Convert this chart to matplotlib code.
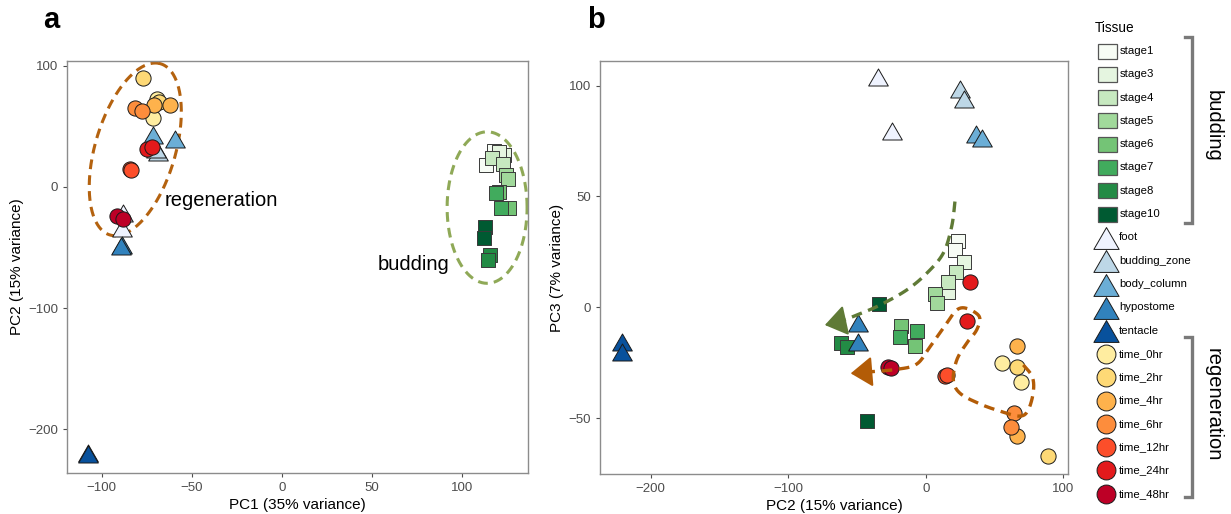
import numpy as np
import matplotlib
matplotlib.use("Agg")
import matplotlib.pyplot as plt
from matplotlib.patches import Rectangle
from matplotlib.path import Path

plt.rcParams['font.family'] = ['Liberation Sans', 'DejaVu Sans']

# ---------------- data ----------------
tissues_budding = ['stage1', 'stage3', 'stage4', 'stage5', 'stage6', 'stage7', 'stage8', 'stage10']
tissues_body = ['foot', 'budding_zone', 'body_column', 'hypostome', 'tentacle']
tissues_regen = ['time_0hr', 'time_2hr', 'time_4hr', 'time_6hr', 'time_12hr', 'time_24hr', 'time_48hr']

colors_budding = ['#f7fcf5', '#e5f5e0', '#c7e9c0', '#a1d99b', '#74c476', '#41ab5d', '#238b45', '#005a32']
colors_body = ['#eff3ff', '#bdd7e7', '#6baed6', '#3182bd', '#08519c']
colors_regen = ['#ffeda0', '#fed976', '#feb24c', '#fd8d3c', '#fc4e2a', '#e31a1c', '#bd0026']

# panel a: PC1 vs PC2
tissue_a = (['stage1'] * 2 + ['stage3'] * 2 + ['stage4'] * 2 + ['stage5'] * 2 + ['stage6'] * 2 +
            ['stage7'] * 2 + ['stage8'] * 2 + ['stage10'] * 2 +
            ['foot'] * 2 + ['budding_zone'] * 2 + ['body_column'] * 2 + ['hypostome'] * 2 + ['tentacle'] * 2 +
            ['time_0hr'] * 2 + ['time_2hr'] * 2 + ['time_4hr'] * 2 + ['time_6hr'] * 2 + ['time_12hr'] * 2 +
            ['time_24hr'] * 2 + ['time_48hr'] * 2)
pc1_a = [117.8, 113.3, 123.3, 120.5, 116.5, 122.9, 124.3, 125.7, 126.3, 120.5,
         118.9, 121.6, 115.5, 114.6, 112.8, 112.2,
         -88.0, -88.9, -68.6, -70.0, -71.5, -59.3, -88.9, -89.5, -107.4, -107.6,
         -69.5, -71.5, -77.1, -68.5, -70.8, -62.1, -81.5, -77.6, -84.3, -84.0,
         -74.7, -72.3, -91.3, -88.0]
pc2_a = [29.6, 18.1, 26.3, 28.5, 23.6, 18.6, 9.8, 6.3, -17.2, -4.5,
         -5.3, -17.7, -56.2, -60.3, -32.8, -42.4,
         -21.3, -34.2, 29.1, 31.0, 42.8, 39.3, -47.9, -48.5, -219.8, -220.3,
         72.3, 56.8, 89.9, 70.0, 67.6, 67.6, 65.1, 62.6, 14.8, 13.8,
         31.0, 33.2, -24.0, -26.8]

# panel b: PC2 vs PC3
tissue_b = (['stage1'] * 2 + ['stage3'] * 2 + ['stage4'] * 2 + ['stage5'] * 2 + ['stage6'] * 2 +
            ['stage7'] * 2 + ['stage8'] * 2 + ['stage10'] * 2 +
            ['foot'] * 2 + ['budding_zone'] * 2 + ['body_column'] * 2 + ['hypostome'] * 2 + ['tentacle'] * 2 +
            ['time_0hr'] * 2 + ['time_2hr'] * 2 + ['time_4hr'] * 2 + ['time_6hr'] * 2 + ['time_12hr'] * 2 +
            ['time_24hr'] * 2 + ['time_48hr'] * 2)
pc2_b = [23.6, 21.2, 27.8, 16.4, 22.0, 16.1, 6.7, 8.4, -18.0, -7.9,
         -18.8, -6.2, -61.9, -57.1, -34.0, -43.0,
         -35.0, -24.4, 24.9, 27.8, 36.5, 40.6, -49.1, -49.1, -221.1, -221.1,
         55.6, 69.4, 66.5, 88.6, 66.5, 66.5, 64.1, 61.7, 14.0, 15.2,
         32.1, 29.7, -27.3, -25.3]
pc3_b = [30.1, 25.9, 20.3, 7.0, 16.1, 11.6, 6.0, 2.1, -8.4, -17.5,
         -13.3, -10.6, -16.2, -18.1, 1.5, -51.2,
         104.1, 79.7, 98.4, 93.9, 78.2, 76.3, -7.2, -15.5, -15.5, -20.3,
         -25.0, -33.8, -26.8, -67.1, -17.3, -57.9, -47.8, -53.9, -30.9, -30.4,
         11.3, -6.0, -26.8, -27.5]

# annotation paths in panel b (data coords)
green_path_x = [21.2, 18.8, 12.7, 0.6, -13.9, -33.3, -50.2, -62.4]
green_path_y = [47.7, 36.4, 24.4, 15.3, 7.8, 1.0, -3.5, -6.5]
green_tip = (-73.4, -8.0)
brown_path_x = [70.9, 77.4, 78.2, 74.5, 68.5, 55.2, 39.4, 24.9, 20.0, 22.5, 29.7, 37.0, 38.9,
                29.7, 22.5, 15.2, 3.1, -6.6, -21.2, -40.6]
brown_path_y = [-26.0, -31.3, -38.1, -46.3, -49.1, -47.1, -43.6, -38.8, -32.8, -23.8, -16.2, -10.2, -4.2,
                -0.5, -1.2, -7.2, -17.8, -25.6, -28.0, -29.1]
brown_tip = (-54.6, -29.8)

# ---------------- style lookups ----------------
color_of = {}
marker_of = {}
for t, c in zip(tissues_budding, colors_budding):
    color_of[t] = c
    marker_of[t] = 's'
for t, c in zip(tissues_body, colors_body):
    color_of[t] = c
    marker_of[t] = 'tri'
for t, c in zip(tissues_regen, colors_regen):
    color_of[t] = c
    marker_of[t] = 'o'

tri_marker = Path([(-1, -0.866), (1, -0.866), (0, 0.866), (-1, -0.866)],
                  [Path.MOVETO, Path.LINETO, Path.LINETO, Path.CLOSEPOLY])
size_of = {'s': 92, 'tri': 200, 'o': 120}


def draw_points(ax, xs, ys, tissues):
    for kind in ['s', 'tri', 'o']:
        for t in tissues_budding + tissues_body + tissues_regen:
            if marker_of[t] != kind:
                continue
            idx = [i for i, tt in enumerate(tissues) if tt == t]
            if not idx:
                continue
            m = tri_marker if kind == 'tri' else kind
            ec = '#3a3a3a' if kind == 's' else '#1a1a1a'
            ax.scatter([xs[i] for i in idx], [ys[i] for i in idx], s=size_of[kind], marker=m,
                       c=color_of[t], edgecolors=ec, linewidths=0.7, zorder=3)


def style_axes(ax):
    for sp in ax.spines.values():
        sp.set_color('#8c8c8c')
        sp.set_linewidth(1.0)
    ax.tick_params(axis='both', colors='#4d4d4d', labelsize=9.5, length=3, width=0.8, labelcolor='#4d4d4d')
    ax.tick_params(axis='both', color='#4d4d4d')


def smooth(xs, ys, n=12):
    pts = np.column_stack([xs, ys])
    p = np.vstack([pts[0], pts, pts[-1]])
    out = []
    for i in range(1, len(p) - 2):
        p0, p1, p2, p3 = p[i - 1], p[i], p[i + 1], p[i + 2]
        for t in np.linspace(0, 1, n, endpoint=False):
            t2, t3 = t * t, t * t * t
            out.append(0.5 * ((2 * p1) + (-p0 + p2) * t + (2 * p0 - 5 * p1 + 4 * p2 - p3) * t2 +
                              (-p0 + 3 * p1 - 3 * p2 + p3) * t3))
    out.append(pts[-1])
    out = np.array(out)
    return out[:, 0], out[:, 1]


fig = plt.figure(figsize=(12.31, 5.14), dpi=100)
W, H = 1231.0, 514.0

# ---------------- panel a ----------------
axa = fig.add_axes([67 / W, 1 - 473 / H, (528 - 67) / W, (473 - 61) / H])
draw_points(axa, pc1_a, pc2_a, tissue_a)
axa.set_xlim(-119.3, 136.6)
axa.set_ylim(-236, 103.9)
axa.set_xticks([-100, -50, 0, 50, 100])
axa.set_yticks([-200, -100, 0, 100])
axa.set_xticklabels(['\u2212100', '\u221250', '0', '50', '100'])
axa.set_yticklabels(['\u2212200', '\u2212100', '0', '100'])
axa.set_xlabel('PC1 (35% variance)', fontsize=11, labelpad=3)
axa.set_ylabel('PC2 (15% variance)', fontsize=11, labelpad=3)
style_axes(axa)

th = np.linspace(0, 2 * np.pi, 300)
ex = -81.4 + 13 * np.cos(th) + 22 * np.sin(th)
ey = 31 + 71 * np.cos(th) - 6 * np.sin(th)
axa.plot(ex, ey, color='#b4620f', lw=2.2, ls=(0, (3.2, 2.0)), zorder=2)
gx = 113.9 + 22.2 * np.cos(th)
gy = -17 + 62.5 * np.sin(th)
axa.plot(gx, gy, color='#8fa957', lw=2.2, ls=(0, (3.2, 2.0)), zorder=2)
axa.text(-64.9, -10.8, 'regeneration', fontsize=14.5, ha='left', va='center')
axa.text(52.9, -64.4, 'budding', fontsize=14.5, ha='left', va='center')

# ---------------- panel b ----------------
axb = fig.add_axes([600 / W, 1 - 474 / H, (1068 - 600) / W, (474 - 61) / H])
draw_points(axb, pc2_b, pc3_b, tissue_b)
axb.set_xlim(-236.9, 103.4)
axb.set_ylim(-75.2, 111.1)
axb.set_xticks([-200, -100, 0, 100])
axb.set_yticks([-50, 0, 50, 100])
axb.set_xticklabels(['\u2212200', '\u2212100', '0', '100'])
axb.set_yticklabels(['\u221250', '0', '50', '100'])
axb.set_xlabel('PC2 (15% variance)', fontsize=11, labelpad=3)
axb.set_ylabel('PC3 (7% variance)', fontsize=11, labelpad=3)
style_axes(axb)

green_col = '#5f7a36'
brown_col = '#b35c07'
sx, sy = smooth(green_path_x, green_path_y)
axb.plot(sx, sy, color=green_col, lw=2.4, ls=(0, (3.2, 2.0)), zorder=4)
axb.annotate('', xy=green_tip, xytext=(green_path_x[-1], green_path_y[-1]),
             arrowprops=dict(arrowstyle='-|>,head_length=1.35,head_width=0.95', color=green_col,
                             lw=1.5, shrinkA=0, shrinkB=0, mutation_scale=10), zorder=5)
sx, sy = smooth(brown_path_x, brown_path_y)
axb.plot(sx, sy, color=brown_col, lw=2.4, ls=(0, (3.2, 2.0)), zorder=4)
axb.annotate('', xy=brown_tip, xytext=(brown_path_x[-1], brown_path_y[-1]),
             arrowprops=dict(arrowstyle='-|>,head_length=1.35,head_width=0.95', color=brown_col,
                             lw=1.5, shrinkA=0, shrinkB=0, mutation_scale=10), zorder=5)

# ---------------- overlay: labels and legend ----------------
ov = fig.add_axes([0, 0, 1, 1], facecolor='none')
ov.set_xlim(0, W)
ov.set_ylim(H, 0)
ov.axis('off')

ov.text(43, 28, 'a', fontsize=21, fontweight='bold', ha='left', va='baseline')
ov.text(587, 28, 'b', fontsize=21, fontweight='bold', ha='left', va='baseline')

ov.text(1095, 28.5, 'Tissue', fontsize=9.8, ha='left', va='center')
legend_labels = tissues_budding + tissues_body + tissues_regen
for i, t in enumerate(legend_labels):
    yc = 51 + 23.3 * i
    kind = marker_of[t]
    if kind == 's':
        ov.add_patch(Rectangle((1097.5, yc - 7.5), 19, 15, facecolor=color_of[t], edgecolor='#555555',
                               lw=0.9))
        tx = 1120
    elif kind == 'tri':
        ov.scatter([1106], [yc + 0.5], s=330, marker=tri_marker, c=color_of[t], edgecolors='#1a1a1a',
                   linewidths=0.7)
        tx = 1119
    else:
        ov.scatter([1106], [yc], s=185, marker='o', c=color_of[t], edgecolors='#1a1a1a', linewidths=0.7)
        tx = 1119
    ov.text(tx, yc, t, fontsize=8.2, ha='left', va='center')

br_col = '#7a7a7a'
ov.plot([1185, 1192, 1192, 1185], [37, 37, 223, 223], color=br_col, lw=2.4, solid_joinstyle='miter')
ov.plot([1185, 1192, 1192, 1185], [337, 337, 497, 497], color=br_col, lw=2.4, solid_joinstyle='miter')
ov.text(1213, 126, 'budding', fontsize=14.5, rotation=270, ha='center', va='center')
ov.text(1213, 405, 'regeneration', fontsize=14.5, rotation=270, ha='center', va='center')

fig.savefig('out.png', dpi=100)
